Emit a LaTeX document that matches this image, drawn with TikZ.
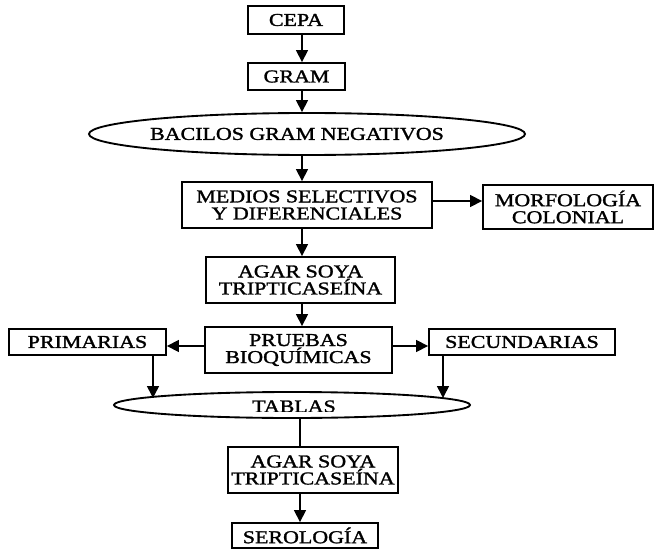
\documentclass[tikz,border=0pt]{standalone}
\usepackage{fontspec}
\setmainfont[FakeStretch=1.21,FakeBold=1.5]{Liberation Serif}
\usetikzlibrary{arrows.meta,shapes.geometric}
\begin{document}
\begin{tikzpicture}[x=0.75pt,y=-0.75pt,
  txt/.style={font=\fontsize{13.6}{12.8}\selectfont},
  box/.style={draw,line width=1.4pt,inner sep=0pt,align=center,txt},
  oval/.style={draw,line width=1.4pt,ellipse,inner sep=0pt},
  lbl/.style={inner sep=0pt,align=center,txt},
  arr/.style={line width=1.2pt,-{Triangle[length=9pt,width=9pt]}},
  ln/.style={line width=1.2pt}]
\useasboundingbox (0,0) rectangle (667,549);
% nodes
\node[box,minimum width=72pt,minimum height=21pt] (cepa) at (296,20) {CEPA};
\node[box,minimum width=72.75pt,minimum height=20.25pt] (gram) at (296.5,76.5) {GRAM};
\node[oval,minimum width=327pt,minimum height=31.5pt] (bacilos) at (307,134) {};
\node[lbl] (bactxt) at (297,134) {BACILOS GRAM NEGATIVOS};
\node[box,minimum width=187.5pt,minimum height=34.5pt] (medios) at (307,205) {MEDIOS SELECTIVOS\\Y DIFERENCIALES};
\node[box,minimum width=127.5pt,minimum height=33pt] (morfo) at (568,207) {MORFOLOGÍA\\COLONIAL};
\node[box,minimum width=141.75pt,minimum height=34.5pt] (agar1) at (300.5,280) {AGAR SOYA\\TRIPTICASEÍNA};
\node[box,minimum width=140.25pt,minimum height=34.5pt] (pruebas) at (298.5,350) {PRUEBAS\\BIOQUÍMICAS};
\node[box,minimum width=117.75pt,minimum height=19.5pt] (prim) at (87.5,342) {PRIMARIAS};
\node[box,minimum width=139.5pt,minimum height=19.5pt] (secu) at (522,342) {SECUNDARIAS};
\node[oval,minimum width=267pt,minimum height=19.5pt] (tablas) at (292,405) {};
\begin{scope}
\clip (0,380) rectangle (667,411);
\node[lbl] (tabtxt) at (294,406.5) {TABLAS};
\end{scope}
\node[box,minimum width=127.5pt,minimum height=34.5pt] (agar2) at (313,470) {AGAR SOYA\\TRIPTICASEÍNA};
\node[box,minimum width=110pt,minimum height=18.75pt] (sero) at (305,535.5) {SEROLOGÍA};
% helper coordinates
\coordinate (gx) at (302,0);
\coordinate (gx2) at (300,0);
\coordinate (my) at (0,201);
\coordinate (py) at (0,346);
\coordinate (tl) at (153,398);
\coordinate (tr) at (443,398);
% connectors
\draw[arr] (cepa.south -| gx) -- (gram.north -| gx);
\draw[arr] (gram.south -| gx) -- (bacilos.north -| gx);
\draw[arr] (bacilos.south -| gx) -- (medios.north -| gx);
\draw[arr] (medios.south -| gx) -- (agar1.north -| gx);
\draw[arr] (agar1.south -| gx) -- (pruebas.north -| gx);
\draw[arr] (medios.east |- my) -- (morfo.west |- my);
\draw[arr] (pruebas.west |- py) -- (prim.east |- py);
\draw[arr] (pruebas.east |- py) -- (secu.west |- py);
\draw[arr] (prim.south -| tl) -- (tl);
\draw[arr] (secu.south -| tr) -- (tr);
\draw[ln] (tablas.south -| gx2) -- (agar2.north -| gx2);
\draw[arr] (agar2.south -| gx2) -- (sero.north -| gx2);
\end{tikzpicture}
\end{document}
